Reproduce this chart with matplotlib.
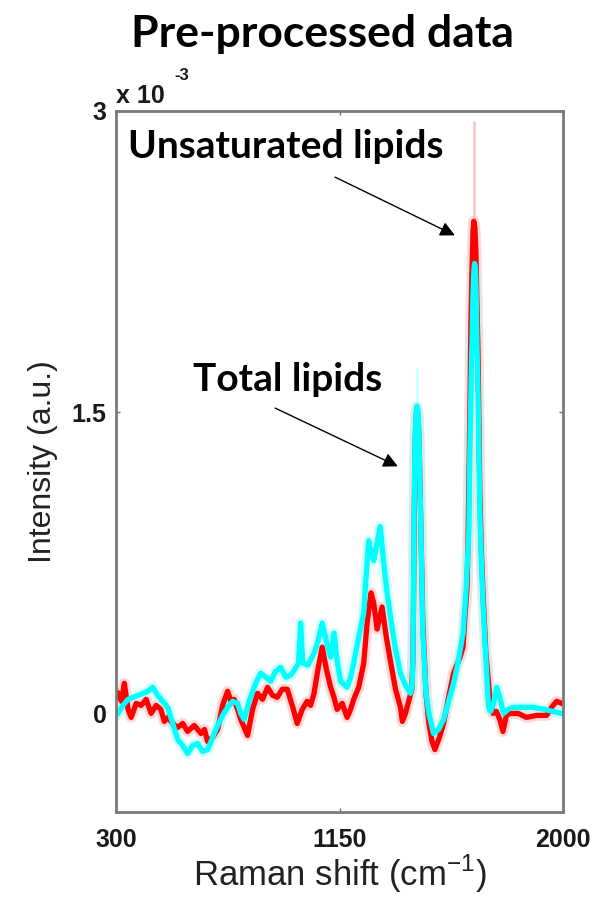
import matplotlib.pyplot as plt
import numpy as np

# Espectros (intensidad en unidades de 1e-3)
raman_rojo = [306, 320, 331, 345, 357, 376, 395, 414, 433, 452, 470, 483, 496, 515, 534, 553, 572, 597, 623, 636,
              648, 667, 686, 705, 724, 737, 749, 762, 774, 787, 800, 819, 838, 857, 876, 895, 913, 932, 951, 970,
              989, 1008, 1027, 1040, 1053, 1068, 1084, 1100, 1116, 1129, 1141, 1160, 1179, 1192, 1204, 1223, 1242,
              1255, 1270, 1280, 1293, 1312, 1328, 1344, 1363, 1382, 1389, 1401, 1413, 1425, 1430, 1433, 1437, 1441,
              1445, 1449, 1452, 1456, 1460, 1467, 1479, 1490, 1502, 1513, 1530, 1546, 1565, 1584, 1596, 1609, 1620,
              1627, 1635, 1639, 1646, 1650, 1654, 1658, 1661, 1665, 1669, 1673, 1677, 1684, 1690, 1696, 1707, 1722,
              1734, 1747, 1760, 1772, 1785, 1798, 1830, 1862, 1900, 1938, 1957, 1976, 1995]
intensidad_roja = [0.10, 0.06, 0.15, 0.02, -0.02, 0.05, 0.04, 0.07, 0.00, 0.04, 0.02, -0.04, -0.02, -0.05, -0.07,
                   -0.05, -0.09, -0.06, -0.10, -0.08, -0.14, -0.12, -0.08, 0.04, 0.11, 0.06, 0.07, 0.02, -0.03,
                   -0.07, -0.11, 0.02, 0.10, 0.07, 0.13, 0.09, 0.08, 0.12, 0.12, 0.04, -0.05, 0.02, 0.06, 0.04, 0.10,
                   0.22, 0.33, 0.22, 0.13, 0.08, 0.02, 0.05, -0.02, 0.02, 0.07, 0.13, 0.25, 0.45, 0.60, 0.55, 0.42,
                   0.53, 0.38, 0.26, 0.12, 0.03, -0.04, 0.00, 0.06, 0.12, 0.30, 0.80, 1.30, 1.48, 1.52, 1.48, 1.38,
                   1.15, 0.90, 0.45, 0.10, -0.05, -0.14, -0.18, -0.12, -0.05, 0.08, 0.20, 0.24, 0.28, 0.33, 0.48, 0.62,
                   0.85, 1.50, 1.95, 2.20, 2.40, 2.45, 2.42, 2.30, 2.05, 1.80, 1.10, 0.80, 0.60, 0.30, 0.08, 0.00,
                   0.01, -0.03, -0.09, -0.01, 0.00, 0.00, -0.02, -0.01, -0.01, 0.03, 0.06, 0.05]

raman_cian = [306, 326, 345, 383, 420, 439, 458, 477, 496, 515, 534, 553, 572, 591, 610, 629, 648, 667, 686, 705,
              724, 743, 762, 774, 787, 806, 825, 838, 850, 869, 888, 907, 926, 945, 964, 980, 994, 1002, 1010, 1030,
              1053, 1068, 1084, 1100, 1116, 1129, 1141, 1154, 1179, 1192, 1204, 1223, 1242, 1252, 1261, 1270, 1280,
              1293, 1305, 1318, 1331, 1344, 1363, 1382, 1401, 1420, 1427, 1430, 1433, 1437, 1441, 1445, 1449, 1452,
              1456, 1460, 1467, 1479, 1490, 1508, 1527, 1546, 1565, 1584, 1602, 1620, 1631, 1642, 1646, 1650, 1654,
              1658, 1661, 1664, 1667, 1670, 1673, 1677, 1684, 1690, 1696, 1706, 1717, 1725, 1736, 1748, 1760, 1774,
              1792, 1811, 1850, 1887, 1930, 1960, 1995]
intensidad_cian = [0.00, 0.04, 0.07, 0.09, 0.11, 0.13, 0.09, 0.06, 0.03, -0.05, -0.13, -0.16, -0.20, -0.16, -0.15,
                   -0.19, -0.18, -0.12, -0.06, -0.01, 0.03, 0.06, 0.05, 0.00, -0.03, 0.06, 0.13, 0.17, 0.20, 0.18,
                   0.16, 0.21, 0.23, 0.18, 0.19, 0.22, 0.25, 0.45, 0.25, 0.24, 0.30, 0.36, 0.45, 0.36, 0.28, 0.40,
                   0.26, 0.16, 0.13, 0.18, 0.25, 0.38, 0.50, 0.70, 0.86, 0.80, 0.76, 0.85, 0.93, 0.75, 0.60, 0.48, 0.32,
                   0.20, 0.14, 0.10, 0.15, 0.30, 0.90, 1.35, 1.50, 1.53, 1.50, 1.40, 1.15, 0.90, 0.40, 0.10, 0.00,
                   -0.10, -0.08, -0.03, 0.06, 0.15, 0.26, 0.40, 0.60, 0.90, 1.30, 1.60, 1.85, 2.10, 2.20, 2.24, 2.22,
                   2.10, 1.85, 1.60, 1.00, 0.75, 0.55, 0.30, 0.03, 0.01, 0.05, 0.13, 0.08, 0.00, 0.02, 0.03, 0.03,
                   0.03, 0.02, 0.01, 0.00]

# Variabilidad visible sobre los picos (extremos superiores)
pico_rojo_x, pico_rojo_max = [1662], [2.95]
pico_cian_x, pico_cian_max = [1444], [1.72]

escala = 1e-3
plt.rcParams["font.family"] = ["Liberation Sans", "DejaVu Sans"]

fig = plt.figure(figsize=(6.02, 9.01), dpi=100)
ax = fig.add_axes([0.193, 0.099, 0.742, 0.778])

# Halo claro (variabilidad) y luego las lineas principales
ax.vlines(pico_rojo_x, 2.4e-3, np.array(pico_rojo_max) * escala, color="#ffc8c8", linewidth=2)
ax.vlines(pico_cian_x, 1.5e-3, np.array(pico_cian_max) * escala, color="#c8ffff", linewidth=2)
ax.plot(raman_rojo, np.array(intensidad_roja) * escala, color="#ffb3b3", linewidth=8, alpha=0.5)
ax.plot(raman_cian, np.array(intensidad_cian) * escala, color="#b3ffff", linewidth=8, alpha=0.5)
ax.plot(raman_rojo, np.array(intensidad_roja) * escala, color="red", linewidth=3.8)
ax.plot(raman_cian, np.array(intensidad_cian) * escala, color="cyan", linewidth=3.8)

ax.set_xlim(300, 2000)
ax.set_ylim(-0.49e-3, 3e-3)
ax.set_xticks([300, 1150, 2000])
ax.set_xticklabels(["300", "1150", "2000"])
ax.set_yticks([0, 1.5e-3, 3e-3])
ax.set_yticklabels(["0", "1.5", "3"])
ax.tick_params(direction="in", length=3, width=1, colors="#707070", top=True, right=True,
               labelcolor="#1a1a1a", labelsize=18)
ax.tick_params(axis="x", pad=12)
ax.tick_params(axis="y", pad=7)
for etiqueta in ax.get_xticklabels() + ax.get_yticklabels():
    etiqueta.set_fontweight("bold")
for lado in ax.spines.values():
    lado.set_color("#7a7a7a")
    lado.set_linewidth(2)

ax.set_xlabel("Raman shift (cm$^{\\mathregular{-1}}$)", fontsize=25, labelpad=0, color="#222222")
ax.set_ylabel("Intensity (a.u.)", fontsize=23, color="#222222")
ax.yaxis.set_label_coords(-0.13, 0.5)

ax.text(0.0, 1.004, "x 10", transform=ax.transAxes, fontsize=18, fontweight="bold", va="bottom", ha="left",
        color="#1a1a1a")
ax.text(0.13, 1.04, "-3", transform=ax.transAxes, fontsize=12, fontweight="bold", va="bottom", ha="left",
        color="#1a1a1a")

fig.text(0.535, 0.962, "Pre-processed data", fontsize=32, fontweight="bold", family="Lato",
         ha="center", va="center")

# Flechas de anotacion
ax.annotate("", xy=(1589, 2.38e-3), xytext=(1133, 2.67e-3),
            arrowprops=dict(arrowstyle="-|>", color="black", lw=1, mutation_scale=22, shrinkA=0, shrinkB=0))
ax.annotate("", xy=(1372, 1.23e-3), xytext=(905, 1.52e-3),
            arrowprops=dict(arrowstyle="-|>", color="black", lw=1, mutation_scale=22, shrinkA=0, shrinkB=0))
ax.text(346, 2.82e-3, "Unsaturated lipids", fontsize=28, fontweight="bold", family="Lato",
        ha="left", va="center")
ax.text(593, 1.66e-3, "Total lipids", fontsize=28, fontweight="bold", family="Lato",
        ha="left", va="center")

fig.savefig("out.png", dpi=100)
